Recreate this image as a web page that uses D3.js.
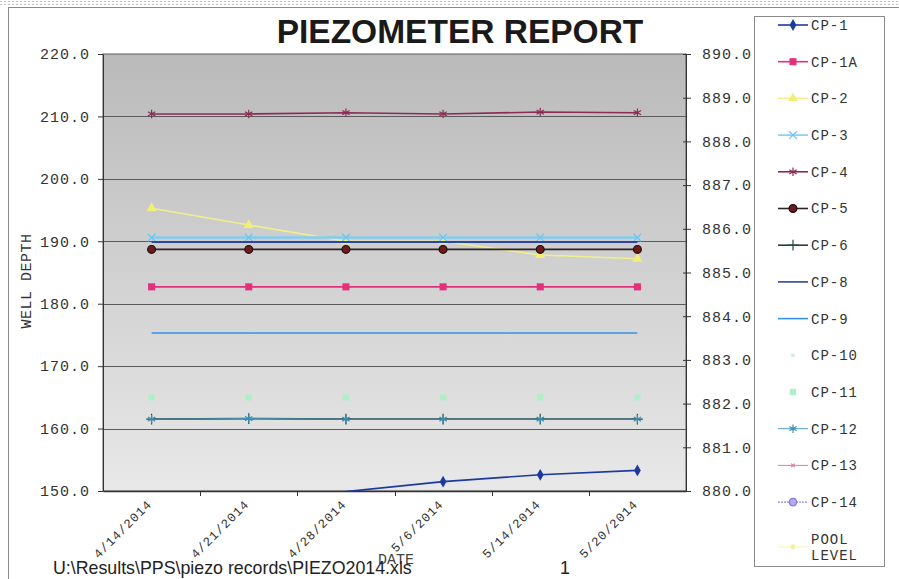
<!DOCTYPE html>
<html lang="en">
<head>
  <title>piezometer report</title>
  <script type="text/javascript" src="https://cdn.jsdelivr.net/npm/d3@7"></script>
  <style>
    body {
      margin: 0px;
      background: white;
    }
    svg {
      display: block;
    }
  </style>
</head>
<body>
  <script type="text/javascript">
    // Data
    var dates = ["4/14/2014", "4/21/2014", "4/28/2014", "5/6/2014", "5/14/2014", "5/20/2014"];
    var leftTicks = [150, 160, 170, 180, 190, 200, 210, 220];
    var rightTicks = [880, 881, 882, 883, 884, 885, 886, 887, 888, 889, 890];

    var cp1   = [null, null, 149.9, 151.5, 152.6, 153.3];
    var cp1a  = [182.7, 182.7, 182.7, 182.7, 182.7, 182.7];
    var cp2   = [195.3, 192.6, 190.0, 190.0, 187.8, 187.2];
    var cp3   = [190.6, 190.6, 190.6, 190.6, 190.6, 190.6];
    var cp4   = [210.4, 210.4, 210.6, 210.4, 210.7, 210.6];
    var cp5   = [188.7, 188.7, 188.7, 188.7, 188.7, 188.7];
    var cp6   = [161.5, 161.6, 161.5, 161.5, 161.5, 161.5];
    var cp8   = [189.9, 189.9, 189.9, 189.9, 189.9, 189.9];
    var cp9   = [175.3, 175.3, 175.3, 175.3, 175.3, 175.3];
    var cp10  = [null, null, null, null, null, null];
    var cp11  = [165.0, 165.0, 165.0, 165.0, 165.0, 165.0];
    var cp12  = [161.5, 161.6, 161.5, 161.5, 161.5, 161.5];
    var cp13  = [null, null, null, null, null, null];
    var cp14  = [null, null, null, null, null, null];
    var pool  = [null, null, null, null, null, null];

    // Series styling table built from the arrays above
    var series = [
      {name: "CP-1",  values: cp1,  line: "#1c3a9e", width: 1.6, sym: d3.symbolDiamond, size: 40, fill: "#1c3a9e", stroke: "none"},
      {name: "CP-1A", values: cp1a, line: "#e4307c", width: 1.6, sym: d3.symbolSquare, size: 50, fill: "#e4307c", stroke: "none"},
      {name: "CP-2",  values: cp2,  line: "#f1ef8c", width: 1.6, sym: d3.symbolTriangle, size: 45, fill: "#f3ee78", stroke: "none"},
      {name: "CP-3",  values: cp3,  line: "#80cdf0", width: 2.5, sym: d3.symbolTimes, size: 40, fill: "none", stroke: "#6cc4ee"},
      {name: "CP-4",  values: cp4,  line: "#8c2b58", width: 1.6, sym: d3.symbolAsterisk, size: 50, fill: "none", stroke: "#8c2b58"},
      {name: "CP-5",  values: cp5,  line: "#2e2226", width: 1.6, sym: d3.symbolCircle, size: 48, fill: "#6e1a1a", stroke: "#1a1010"},
      {name: "CP-6",  values: cp6,  line: "#2c3c3c", width: 1.8, sym: d3.symbolPlus, size: 40, fill: "none", stroke: "#2c4848"},
      {name: "CP-8",  values: cp8,  line: "#2c46a8", width: 2, sym: null},
      {name: "CP-9",  values: cp9,  line: "#3792e6", width: 1.6, sym: null},
      {name: "CP-10", values: cp10, line: null, sym: d3.symbolCircle, size: 12, fill: "#c8f2e4", stroke: "none"},
      {name: "CP-11", values: cp11, line: null, sym: d3.symbolSquare, size: 40, fill: "#b0eec8", stroke: "none"},
      {name: "CP-12", values: cp12, line: "#4a9ec0", width: 1, sym: d3.symbolAsterisk, size: 50, fill: "none", stroke: "#3a8eb0"},
      {name: "CP-13", values: cp13, line: "#e47aa6", width: 1, sym: d3.symbolTimes, size: 10, fill: "none", stroke: "#e47aa6"},
      {name: "CP-14", values: cp14, line: "#7a6ae0", width: 1, dash: "2,1", sym: d3.symbolCircle, size: 45, fill: "#b8a8f0", stroke: "#8a7ae0"},
      {name: "POOL LEVEL", values: pool, line: "#f8f6b8", width: 1, sym: d3.symbolCircle, size: 20, fill: "#f4f09a", stroke: "none"}
    ];

    var width = 899;
    var height = 579;
    var plot = {left: 103, right: 686, top: 54, bottom: 491};

    var svg = d3.select("body").append("svg")
      .attr("width", width)
      .attr("height", height);

    // Scales
    var x = d3.scaleBand().domain(dates).range([plot.left, plot.right]);
    var y = d3.scaleLinear().domain([150, 220]).range([plot.bottom, plot.top]);
    var yRight = d3.scaleLinear().domain([880, 890]).range([plot.bottom, plot.top]);
    var cx = function(d) { return x(d) + x.bandwidth() / 2; };

    var defs = svg.append("defs");
    var grad = defs.append("linearGradient").attr("id", "plotBg")
      .attr("x1", 0).attr("y1", 0).attr("x2", 0).attr("y2", 1);
    grad.append("stop").attr("offset", "0%").attr("stop-color", "#bababa");
    grad.append("stop").attr("offset", "100%").attr("stop-color", "#e8e8e8");
    defs.append("clipPath").attr("id", "plotClip").append("rect")
      .attr("x", plot.left).attr("y", plot.top)
      .attr("width", plot.right - plot.left).attr("height", plot.bottom - plot.top);

    // Page frame (scan edges)
    svg.append("line").attr("x1", 0).attr("x2", width).attr("y1", 1.5).attr("y2", 1.5)
      .attr("stroke", "#c4c4c4").attr("stroke-dasharray", "2,2");
    svg.append("line").attr("x1", 0).attr("x2", width).attr("y1", 4.5).attr("y2", 4.5)
      .attr("stroke", "#c4c4c4").attr("stroke-dasharray", "2,2");
    svg.append("line").attr("x1", 8).attr("x2", width).attr("y1", 7.5).attr("y2", 7.5)
      .attr("stroke", "#8a8a8a");
    svg.append("line").attr("x1", 8.5).attr("x2", 8.5).attr("y1", 7).attr("y2", height)
      .attr("stroke", "#8a8a8a");

    // Plot background
    svg.append("rect")
      .attr("x", plot.left).attr("y", plot.top)
      .attr("width", plot.right - plot.left).attr("height", plot.bottom - plot.top)
      .attr("fill", "url(#plotBg)");

    // Gridlines at left ticks
    svg.append("g").selectAll("line")
      .data(leftTicks.slice(1, -1))
      .enter().append("line")
      .attr("x1", plot.left).attr("x2", plot.right)
      .attr("y1", function(d) { return Math.round(y(d)) + 0.5; })
      .attr("y2", function(d) { return Math.round(y(d)) + 0.5; })
      .attr("stroke", "#5a5a5a").attr("stroke-width", 1);

    svg.append("rect")
      .attr("x", plot.left).attr("y", plot.top)
      .attr("width", plot.right - plot.left).attr("height", plot.bottom - plot.top)
      .attr("fill", "none").attr("stroke", "#5a5a5a");

    var monoFont = "'Liberation Mono', 'DejaVu Sans Mono', monospace";

    // Left axis
    var leftAxis = svg.append("g")
      .attr("transform", "translate(" + plot.left + ",0)")
      .call(d3.axisLeft(y).tickValues(leftTicks).tickFormat(d3.format(".1f"))
        .tickSize(5).tickSizeOuter(0).tickPadding(8));
    leftAxis.select(".domain").attr("stroke", "#333");
    leftAxis.selectAll(".tick line").attr("stroke", "#333");
    leftAxis.selectAll("text")
      .style("font-family", monoFont).style("font-size", "15px")
      .style("letter-spacing", "1px").attr("fill", "#333");

    // Right axis
    var rightAxis = svg.append("g")
      .attr("transform", "translate(" + plot.right + ",0)")
      .call(d3.axisRight(yRight).tickValues(rightTicks).tickFormat(d3.format(".1f"))
        .tickSize(5).tickSizeOuter(0).tickPadding(11));
    rightAxis.select(".domain").attr("stroke", "#333");
    rightAxis.selectAll(".tick line").attr("stroke", "#333").attr("x1", -3);
    rightAxis.selectAll("text")
      .style("font-family", monoFont).style("font-size", "15px")
      .style("letter-spacing", "1px").attr("fill", "#333");

    // Bottom axis: ticks on band edges, rotated labels at band centres
    var bottomAxis = svg.append("g")
      .attr("transform", "translate(0," + plot.bottom + ")")
      .call(d3.axisBottom(x).tickSize(0).tickSizeOuter(0));
    bottomAxis.select(".domain").attr("stroke", "#333").attr("stroke-width", 1.5);
    bottomAxis.selectAll("text")
      .attr("x", 0).attr("y", 0).attr("dy", 0)
      .attr("text-anchor", "end")
      .attr("transform", "translate(1,14) rotate(-45)")
      .style("font-family", monoFont).style("font-size", "12.5px")
      .style("letter-spacing", "1px").attr("fill", "#333");
    svg.append("g").selectAll("line")
      .data(dates.slice(1))
      .enter().append("line")
      .attr("x1", function(d) { return Math.round(x(d)) + 0.5; })
      .attr("x2", function(d) { return Math.round(x(d)) + 0.5; })
      .attr("y1", plot.bottom).attr("y2", plot.bottom + 5)
      .attr("stroke", "#333");

    // Series
    var lineGen = d3.line()
      .defined(function(d) { return d.v !== null; })
      .x(function(d) { return cx(d.date); })
      .y(function(d) { return y(d.v); });

    var plotG = svg.append("g").attr("clip-path", "url(#plotClip)");
    series.forEach(function(s) {
      var pts = s.values.map(function(v, i) { return {date: dates[i], v: v}; });
      if (s.line) {
        plotG.append("path")
          .datum(pts)
          .attr("d", lineGen)
          .attr("fill", "none")
          .attr("stroke", s.line)
          .attr("stroke-width", s.width)
          .attr("stroke-dasharray", s.dash || null);
      }
      if (s.sym) {
        // markers only where the value is inside the axis range
        plotG.selectAll(null)
          .data(pts.filter(function(d) { return d.v !== null && d.v >= y.domain()[0]; }))
          .enter().append("path")
          .attr("transform", function(d) { return "translate(" + cx(d.date) + "," + y(d.v) + ")"; })
          .attr("d", d3.symbol().type(s.sym).size(s.size))
          .attr("fill", s.fill)
          .attr("stroke", s.stroke)
          .attr("stroke-width", 1.2);
      }
    });

    // Title and axis titles
    svg.append("text")
      .attr("x", 460).attr("y", 43)
      .attr("text-anchor", "middle")
      .style("font-family", "'Liberation Sans', Arial, sans-serif")
      .style("font-weight", "bold").style("font-size", "33.5px")
      .attr("fill", "#1a1a1a")
      .text("PIEZOMETER REPORT");

    svg.append("text")
      .attr("transform", "translate(31,281) rotate(-90)")
      .attr("text-anchor", "middle")
      .style("font-family", monoFont).style("font-size", "15px")
      .style("letter-spacing", "0.5px").attr("fill", "#333")
      .text("WELL DEPTH");

    svg.append("text")
      .attr("x", 396).attr("y", 564)
      .attr("text-anchor", "middle")
      .style("font-family", monoFont).style("font-size", "15px")
      .attr("fill", "#444")
      .text("DATE");

    // Legend
    var legend = {left: 754, right: 884, top: 16, bottom: 566, first: 25, step: 36.7};
    svg.append("rect")
      .attr("x", legend.left + 0.5).attr("y", legend.top + 0.5)
      .attr("width", legend.right - legend.left).attr("height", legend.bottom - legend.top)
      .attr("fill", "white").attr("stroke", "#8a8a8a");

    var legendItems = svg.append("g").selectAll("g")
      .data(series)
      .enter().append("g")
      .attr("transform", function(d, i) { return "translate(0," + (legend.first + i * legend.step + (i === series.length - 1 ? 8 : 0)) + ")"; });

    legendItems.filter(function(d) { return d.line; })
      .append("line")
      .attr("x1", 778).attr("x2", 808)
      .attr("stroke", function(d) { return d.line; })
      .attr("stroke-width", function(d) { return Math.min(d.width, 1.6); })
      .attr("stroke-dasharray", function(d) { return d.dash || null; });
    legendItems.filter(function(d) { return d.sym; })
      .append("path")
      .attr("transform", "translate(793,0)")
      .attr("d", function(d) { return d3.symbol().type(d.sym).size(d.size)(); })
      .attr("fill", function(d) { return d.fill; })
      .attr("stroke", function(d) { return d.stroke; })
      .attr("stroke-width", 1.2);

    legendItems.append("text")
      .attr("x", 811)
      .attr("dy", "0.35em")
      .style("font-family", monoFont).style("font-size", "14px")
      .style("letter-spacing", "1px").attr("fill", "#333")
      .each(function(d) {
        var words = d.name.split(" ");
        var t = d3.select(this);
        if (words.length > 1) {
          t.attr("dy", null);
          t.append("tspan").attr("x", 811).attr("y", -3).text(words[0]);
          t.append("tspan").attr("x", 811).attr("y", 13).text(words[1]);
        } else {
          t.text(d.name);
        }
      });

    // Footer
    svg.append("text")
      .attr("x", 53).attr("y", 574)
      .style("font-family", "'Liberation Sans', Arial, sans-serif")
      .style("font-size", "17.8px").attr("fill", "#222")
      .text("U:\\Results\\PPS\\piezo records\\PIEZO2014.xls");
    svg.append("text")
      .attr("x", 565).attr("y", 574)
      .attr("text-anchor", "middle")
      .style("font-family", "'Liberation Sans', Arial, sans-serif")
      .style("font-size", "17.8px").attr("fill", "#222")
      .text("1");
  </script>
</body>
</html>
